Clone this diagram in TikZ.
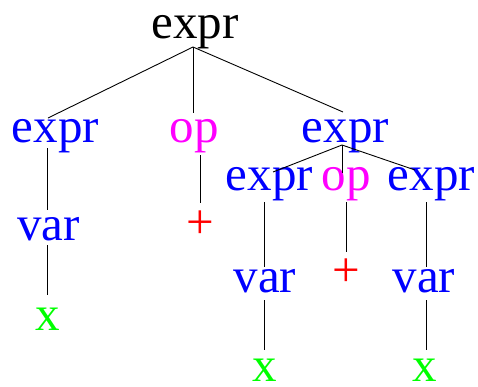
\documentclass[tikz,border=0pt]{standalone}
\usepackage{fontspec}
\setmainfont{Liberation Serif}
\definecolor{cblue}{RGB}{0,0,255}
\definecolor{cmag}{RGB}{255,0,255}
\definecolor{cred}{RGB}{255,0,0}
\definecolor{cgreen}{RGB}{0,255,0}
\begin{document}
\begin{tikzpicture}[x=1pt,y=-1pt,
  lbl/.style={anchor=base,inner sep=0pt,outer sep=0pt,font=\fontsize{49}{49}\selectfont},
  nt/.style={lbl,text=cblue},
  opn/.style={lbl,text=cmag},
  plusn/.style={lbl,text=cred},
  xn/.style={lbl,text=cgreen,text depth=0pt},
  edge/.style={draw=black,line width=0.9pt}]
\useasboundingbox (0,0) rectangle (478,386);
% nodes
\node[lbl] (root) at (195,38) {expr};
\node[nt] (e1) at (55.5,142) {expr};
\node[opn] (o1) at (194,142) {op};
\node[nt] (e2) at (345.5,142) {expr};
\node[nt] (v1) at (48.5,240) {var};
\node[xn] (x1) at (47.5,330) {x};
\node[plusn] (p1) at (200.5,238) {+};
\node[nt] (e3) at (269.5,190) {expr};
\node[opn] (o2) at (346,190) {op};
\node[nt] (e4) at (431.5,190) {expr};
\node[nt] (v2) at (265,292) {var};
\node[xn] (x2) at (265,381) {x};
\node[plusn] (p2) at (346,286) {+};
\node[nt] (v3) at (424,292) {var};
\node[xn] (x3) at (425,381) {x};
% attachment points
\coordinate (root-s) at (193,47);
\coordinate (e1-n) at (48,118);
\coordinate (o1-n) at (193,113);
\coordinate (e2-n) at (343,112);
\coordinate (e1-s) at (47,148);
\coordinate (v1-n) at (47,210);
\coordinate (v1-s) at (47,245);
\coordinate (x1-n) at (47,295);
\coordinate (o1-s) at (200,155);
\coordinate (p1-n) at (200,203);
\coordinate (e2-s) at (342,145);
\coordinate (e3-n) at (273,172);
\coordinate (o2-n) at (342,173);
\coordinate (e4-n) at (415,170);
\coordinate (e3-s) at (264,202);
\coordinate (v2-n) at (264,267);
\coordinate (v2-s) at (264,300);
\coordinate (x2-n) at (264,350);
\coordinate (o2-s) at (346,202);
\coordinate (p2-n) at (346,252);
\coordinate (e4-s) at (426,202);
\coordinate (v3-n) at (426,267);
\coordinate (v3-s) at (426,300);
\coordinate (x3-n) at (426,350);
% connectors
\draw[edge] (root-s) -- (e1-n);
\draw[edge] (root-s) -- (o1-n);
\draw[edge] (root-s) -- (e2-n);
\draw[edge] (e1-s) -- (v1-n);
\draw[edge] (v1-s) -- (x1-n);
\draw[edge] (o1-s) -- (p1-n);
\draw[edge] (e2-s) -- (e3-n);
\draw[edge] (e2-s) -- (o2-n);
\draw[edge] (e2-s) -- (e4-n);
\draw[edge] (e3-s) -- (v2-n);
\draw[edge] (v2-s) -- (x2-n);
\draw[edge] (o2-s) -- (p2-n);
\draw[edge] (e4-s) -- (v3-n);
\draw[edge] (v3-s) -- (x3-n);
\end{tikzpicture}
\end{document}
